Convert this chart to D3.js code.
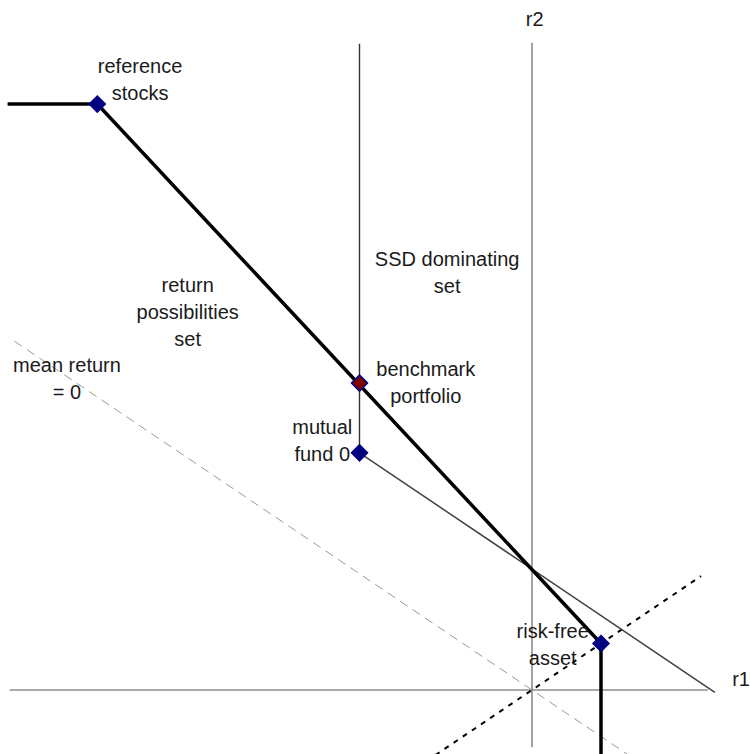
<!DOCTYPE html>
<html>
<head>
<meta charset="utf-8">
<script src="https://cdn.jsdelivr.net/npm/d3@7"></script>
<style>
  body { margin: 0; background: #fff; }
  text { font-family: "Liberation Sans", Arial, sans-serif; font-size: 20px; fill: #1a1a1a; }
</style>
</head>
<body>
<svg id="chart"></svg>
<script>
// portfolio points (r1, r2)
const pointNames = ["reference stocks", "benchmark portfolio", "mutual fund 0", "risk-free asset"];
const pointR1 = [-6.3, -2.5, -2.5, 1.0];
const pointR2 = [12.6, 6.6, 5.1, 1.0];

// return possibilities frontier (thick line)
const frontierR1 = [-7.6, -6.3, 1.0, 1.0];
const frontierR2 = [12.6, 12.6, 1.0, -1.4];

// iso-mean line through mutual fund 0
const isoMeanR1 = [-2.5, 2.65];
const isoMeanR2 = [5.1, -0.05];

// mean return = 0 line and the r1 = r2 diagonal
const zeroMeanR1 = [-7.5, 1.4];
const zeroMeanR2 = [7.5, -1.4];
const diagR1 = [-1.4, 2.45];
const diagR2 = [-1.4, 2.45];

// SSD dominating set boundary (vertical through the benchmark)
const ssdR1 = [-2.5, -2.5];
const ssdR2 = [13.9, 5.1];

// axes
const axisR1 = [-7.57, 2.55];
const axisR2 = [13.92, -1.23];

// text labels: lines and anchor (r1, r2) of first baseline
const labelLines = [["reference", "stocks"], ["r2"], ["SSD dominating", "set"],
    ["return", "possibilities", "set"], ["mean return", "= 0"], ["benchmark", "portfolio"],
    ["mutual", "fund 0"], ["risk-free", "asset"], ["r1"]];
const labelR1 = [-5.68, 0.04, -1.23, -4.99, -6.74, -1.54, -3.04, 0.30, 3.03];
const labelR2 = [13.27, 14.28, 9.12, 8.56, 6.84, 6.75, 5.51, 1.12, 0.09];

function main() {
    let canvasWidth = 750;
    let canvasHeight = 754;

    let svg = d3.select("#chart")
        .attr("width", canvasWidth)
        .attr("height", canvasHeight);

    // origin sits at (532, 690); r1 unit = 69px, r2 unit = 46.5px
    let x = d3.scaleLinear()
        .domain([-532 / 69, 218 / 69])
        .range([0, canvasWidth]);
    let y = d3.scaleLinear()
        .domain([-64 / 46.5, 690 / 46.5])
        .range([canvasHeight, 0]);

    let line = d3.line()
        .x(d => x(d[0]))
        .y(d => y(d[1]));

    let zip = (a, b) => a.map((v, i) => [v, b[i]]);

    // r1 axis
    svg.append("path")
        .attr("d", line([[axisR1[0], 0], [axisR1[1], 0]]))
        .attr("stroke", "#555")
        .attr("stroke-width", 1.2)
        .attr("fill", "none");

    // r2 axis
    svg.append("path")
        .attr("d", line([[0, axisR2[0]], [0, axisR2[1]]]))
        .attr("stroke", "#666")
        .attr("stroke-width", 1.2)
        .attr("fill", "none");

    // mean return = 0 (gray dashed)
    svg.append("path")
        .attr("d", line(zip(zeroMeanR1, zeroMeanR2)))
        .attr("stroke", "#999")
        .attr("stroke-width", 1)
        .attr("stroke-dasharray", "9,6")
        .attr("fill", "none");

    // r1 = r2 diagonal (black dotted)
    svg.append("path")
        .attr("d", line(zip(diagR1, diagR2)))
        .attr("stroke", "#000")
        .attr("stroke-width", 2)
        .attr("stroke-dasharray", "5,6")
        .attr("fill", "none");

    // SSD dominating set boundary
    svg.append("path")
        .attr("d", line(zip(ssdR1, ssdR2)))
        .attr("stroke", "#333")
        .attr("stroke-width", 1.4)
        .attr("fill", "none");

    // iso-mean line through mutual fund 0
    svg.append("path")
        .attr("d", line(zip(isoMeanR1, isoMeanR2)))
        .attr("stroke", "#404040")
        .attr("stroke-width", 1.5)
        .attr("fill", "none");

    // frontier
    svg.append("path")
        .attr("d", line(zip(frontierR1, frontierR2)))
        .attr("stroke", "#000")
        .attr("stroke-width", 3.5)
        .attr("stroke-linejoin", "miter")
        .attr("fill", "none");

    // diamonds
    let points = pointNames.map((n, i) => ({ name: n, r1: pointR1[i], r2: pointR2[i] }));
    svg.selectAll("path.pt")
        .data(points)
        .join("path")
        .attr("class", "pt")
        .attr("d", "M0,-8L8,0L0,8L-8,0Z")
        .attr("transform", d => `translate(${x(d.r1)},${y(d.r2)})`)
        .attr("fill", d => d.name === "benchmark portfolio" ? "#800000" : "#000080")
        .attr("stroke", "#000080")
        .attr("stroke-width", 1.5);

    // labels
    labelLines.forEach(function(lines, i) {
        let t = svg.append("text")
            .attr("x", x(labelR1[i]))
            .attr("y", y(labelR2[i]))
            .style("text-anchor", "middle");
        lines.forEach(function(s, j) {
            t.append("tspan")
                .attr("x", x(labelR1[i]))
                .attr("dy", j === 0 ? 0 : 27)
                .text(s);
        });
    });
}

main();
</script>
</body>
</html>
